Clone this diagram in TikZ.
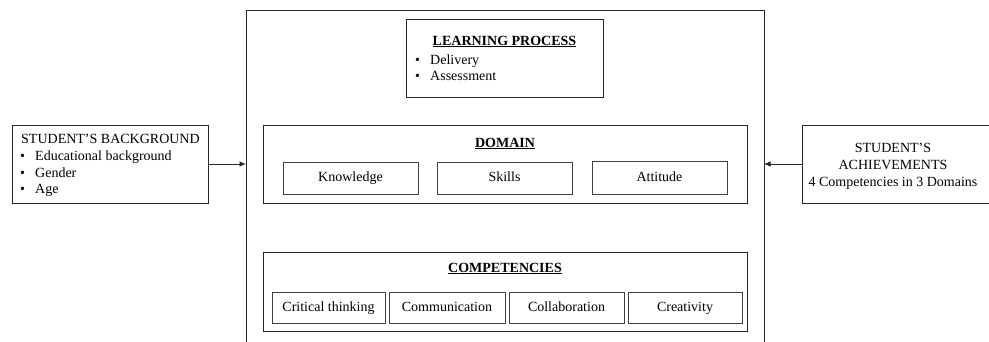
\documentclass[tikz,border=0pt]{standalone}
\usepackage{fontspec}
\setmainfont{Liberation Serif}
\usetikzlibrary{arrows.meta}
\begin{document}
\begin{tikzpicture}[x=1pt,y=-1pt,
  frame/.style={draw=black!85, line width=0.9pt, inner sep=0pt, outer sep=0pt},
  inbox/.style={frame, draw=black!75, text height=10pt, text depth=3pt, font=\fontsize{14}{17}\selectfont},
  txt/.style={inner sep=0pt, anchor=base west, font=\fontsize{14}{17}\selectfont},
  ctxt/.style={txt, anchor=base},
  head/.style={inner sep=0pt, anchor=base, font=\fontsize{14}{17}\selectfont\bfseries},
  link/.style={draw=black!85, line width=0.9pt, -{Latex[length=6.5pt,width=5.5pt]}}]
\useasboundingbox (0,0) rectangle (989,341);
\clip (0,0) rectangle (989,341);

% central framework (open towards the bottom)
\node[frame, minimum width=518, minimum height=360] (main) at (505,190) {};

% learning process
\node[frame, minimum width=197, minimum height=78] (lp) at (504.5,58) {};
\node[head] (lpt) at (504.5,45) {\underline{LEARNING PROCESS}};
\node[txt] (lpb1) at (415,64) {•};
\node[txt] (lpi1) at (430,64) {Delivery};
\node[txt] (lpb2) at (415,80) {•};
\node[txt] (lpi2) at (430,80) {Assessment};

% domain
\node[frame, minimum width=484, minimum height=78] (dom) at (505,164) {};
\node[head] (domt) at (505,147) {\underline{DOMAIN}};
\node[inbox, minimum width=135, minimum height=32] (know) at (350.5,178) {Knowledge};
\node[inbox, minimum width=135, minimum height=32] (skill) at (504.5,178) {Skills};
\node[inbox, minimum width=135, minimum height=33] (att) at (659.5,177.5) {Attitude};

% competencies
\node[frame, minimum width=484, minimum height=79] (comp) at (505,291.5) {};
\node[head] (compt) at (505,272) {\underline{COMPETENCIES}};
\node[inbox, minimum width=113, minimum height=31] (crit) at (328.5,307.5) {Critical thinking};
\node[inbox, minimum width=116, minimum height=31] (comm) at (447,307.5) {Communication};
\node[inbox, minimum width=115, minimum height=31] (coll) at (566.5,307.5) {Collaboration};
\node[inbox, minimum width=114, minimum height=31] (crea) at (685,307.5) {Creativity};

% student's background
\node[frame, minimum width=196, minimum height=78] (bg) at (110,164) {};
\node[txt] (bgt) at (21,143.5) {STUDENT’S BACKGROUND};
\node[txt] (bgb1) at (20,160.5) {•};
\node[txt] (bgi1) at (35,160.5) {Educational background};
\node[txt] (bgb2) at (20,177) {•};
\node[txt] (bgi2) at (35,177) {Gender};
\node[txt] (bgb3) at (20,193.5) {•};
\node[txt] (bgi3) at (35,193.5) {Age};

% student's achievements (runs past the right edge)
\node[frame, minimum width=198, minimum height=78] (ach) at (901,164) {};
\node[ctxt] (acht1) at (893,152) {STUDENT’S};
\node[ctxt] (acht2) at (893,169) {ACHIEVEMENTS};
\node[ctxt] (acht3) at (893,186) {4 Competencies in 3 Domains};

% connectors
\draw[link] (bg.east) -- (bg.east -| main.west);
\draw[link] (ach.west) -- (ach.west -| main.east);
\end{tikzpicture}
\end{document}
